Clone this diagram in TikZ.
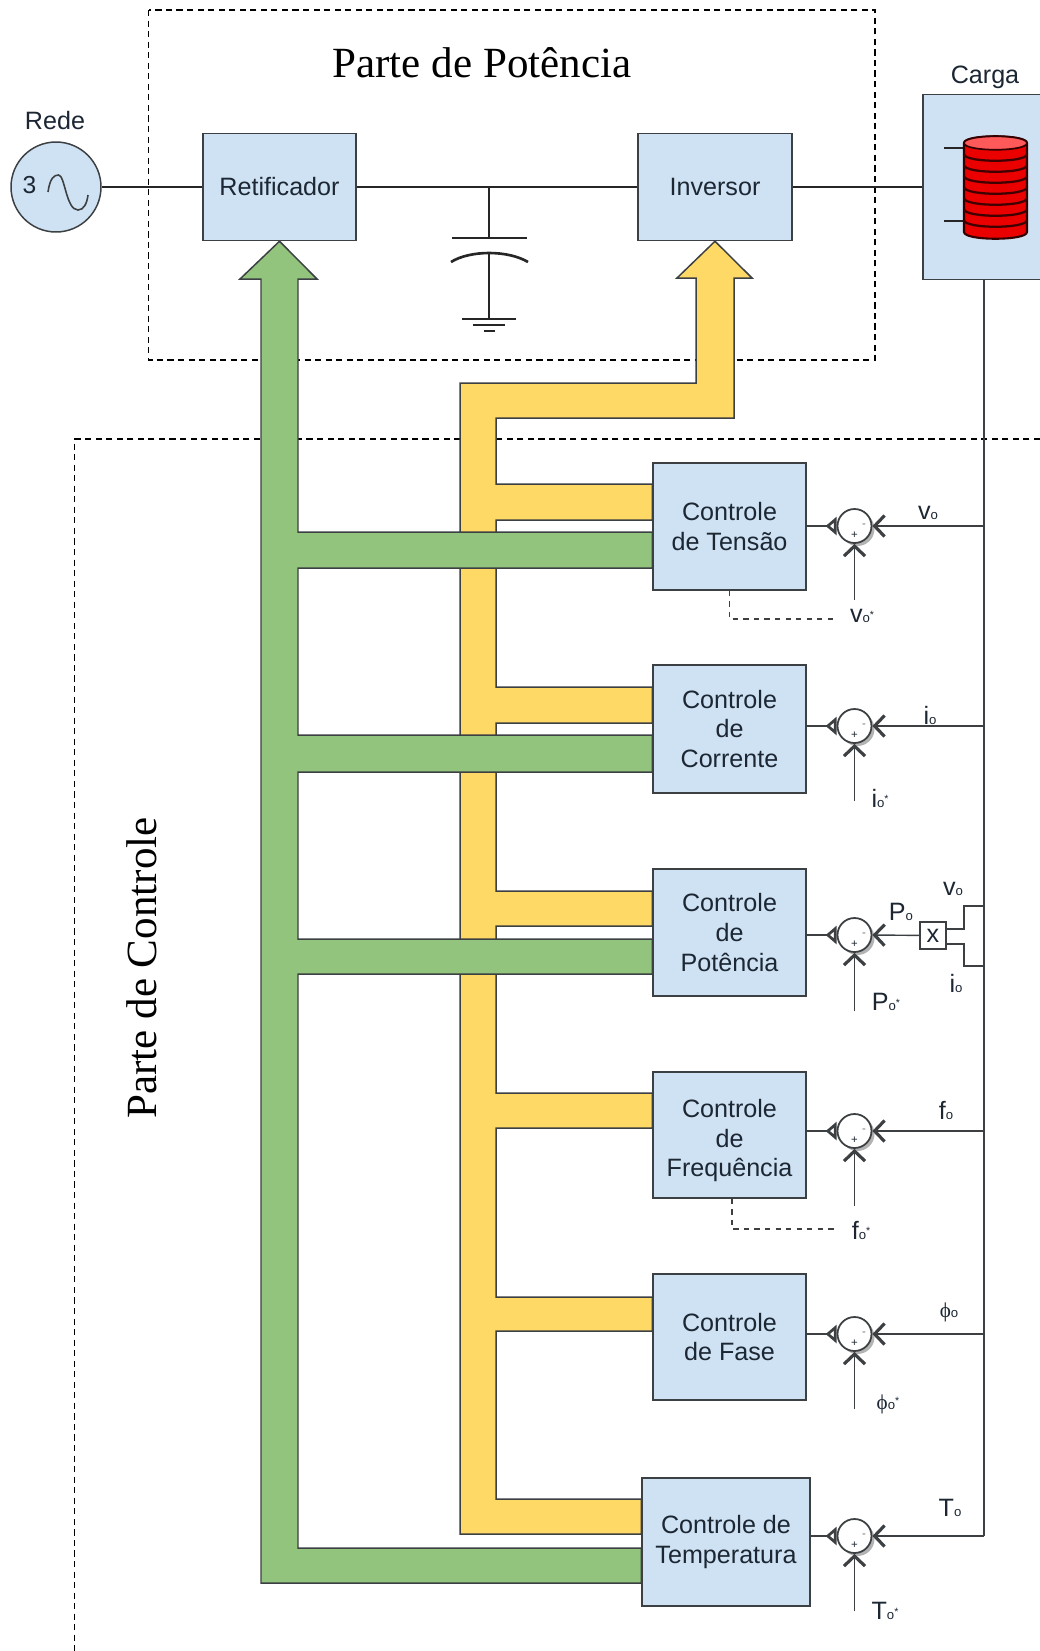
\documentclass[tikz,border=0pt]{standalone}
\usepackage{fontspec}
\setmainfont{Liberation Sans}
\newfontfamily\serifbig{Liberation Serif}
\usetikzlibrary{arrows.meta,backgrounds,shadows}
\definecolor{blkblue}{HTML}{CFE2F3}
\definecolor{busgreen}{HTML}{93C47D}
\definecolor{busyellow}{HTML}{FFD966}
\definecolor{edgegray}{HTML}{3C4043}
\definecolor{txtdark}{HTML}{1C2733}
\newcommand{\subo}[1]{#1{\fontsize{7.5}{7.5}\selectfont o}}
\newcommand{\subostar}[1]{\subo{#1}\raisebox{2.5pt}{\fontsize{6}{6}\selectfont *}}
\newcommand{\phisym}{{\serifbig\fontsize{12}{12}\selectfont ϕ}}

\begin{document}
\begin{tikzpicture}[
  x=0.02cm, y=-0.02cm,
  every node/.style={font=\fontsize{14.3}{16.8}\selectfont, text=txtdark},
  blk/.style={draw=edgegray, line width=0.85pt, fill=blkblue, align=center,
    inner sep=0pt, minimum width=3.06cm},
  hdr/.style={font=\serifbig\fontsize{24.5}{28}\selectfont, text=black},
  lbl/.style={inner sep=0pt},
  sgn/.style={font=\fontsize{6.5}{6.5}\selectfont, inner sep=0pt, anchor=center},
  sumj/.style={circle, draw=edgegray, line width=1pt, fill=white, inner sep=0pt,
    minimum size=0.68cm, drop shadow={shadow xshift=.06cm, shadow yshift=-.06cm,
    fill=black!50, opacity=.6},
    label={[sgn, yshift=-.18cm]center:+},
    label={[sgn, xshift=.19cm, text=black!55]center:-}},
  wirem/.style={draw=black!85, line width=1.5pt},
  wire/.style={draw=edgegray, line width=0.8pt},
  arr/.style={wire, -{Straight Barb[length=2mm, width=4.2mm, line width=1.8pt]}},
  sumout/.style={wire, -{Triangle[reversed, length=2.2mm, width=3.6mm, fill=white, line width=1.6pt]}},
  dashl/.style={wire, dashed},
  dashbox/.style={draw=black, line width=0.6pt, dash pattern=on 3.5pt off 2.5pt},
  busg/.style={draw=edgegray, line width=0.85pt, fill=busgreen},
  busy/.style={draw=edgegray, line width=0.85pt, fill=busyellow},
  band/.style={draw=black!75!red, line width=1.3pt}
]
\useasboundingbox (0,0) rectangle (1040,1651);

% power part
\node[circle, draw=edgegray, line width=0.85pt, fill=blkblue, minimum size=1.8cm, inner sep=0pt] (rede) at (56,187) {};
\node[lbl, font=\fontsize{14}{14}\selectfont] (tres) at (29.5,185) {3};
\node[lbl] (redelbl) at (55,121) {Rede};
\draw[wire, line width=0.9pt] (48,192) .. controls (50,178) and (54,175) .. (58.5,175)
  .. controls (65,175) and (66,210) .. (78,210) .. controls (84,210) and (87,203) .. (88,195);
\node[blk, minimum height=2.14cm] (ret) at (279.5,187) {Retificador};
\node[blk, minimum height=2.14cm, minimum width=3.08cm] (inv) at (715,187) {Inversor};
\node[blk, minimum height=3.7cm, minimum width=2.44cm] (carga) at (984,187) {};
\node[lbl] (cargalbl) at (985,77) {Carga};
\node[hdr] (potencia) at (482,63) {Parte de Potência};
\node[hdr, rotate=90] (controle) at (142,968) {Parte de Controle};

\draw[wirem] (rede) -- (ret);
\draw[wirem] (ret) -- (inv);
\draw[wirem] (inv) -- (carga);

% capacitor and ground
\coordinate (capj) at (489,187);
\coordinate (capt) at (489,238);
\coordinate (capb) at (489,253);
\coordinate (gnd) at (489,319);
\draw[wirem] (capj) -- (capt);
\draw[wirem] (capb) -- (gnd);
\draw[wirem] (452,238) -- (527,238);
\draw[wirem] (451,262) .. controls (470,250) and (508,250) .. (528,262);
\draw[wirem] (462,319) -- (516,319);
\draw[wirem] (473,325) -- (505,325);
\draw[wirem] (484,331) -- (495,331);

% load coil
\draw[wirem] (944,148) -- (964,148);
\draw[wirem] (944,221) -- (964,221);
\draw[draw=black!80!red, line width=1.2pt, fill=red!92!black] (964,143) -- (964,232)
  .. controls (964,241) and (1027,241) .. (1027,232) -- (1027,143)
  .. controls (1027,134) and (964,134) .. (964,143) -- cycle;
\draw[draw=black!80!red, line width=1pt, fill=red!65!white] (964,143)
  .. controls (964,134) and (1027,134) .. (1027,143)
  .. controls (1027,152) and (964,152) .. (964,143) -- cycle;
\draw[band] (964,154) .. controls (964,163) and (1027,163) .. (1027,154);
\draw[band] (964,165) .. controls (964,174) and (1027,174) .. (1027,165);
\draw[band] (964,176) .. controls (964,185) and (1027,185) .. (1027,176);
\draw[band] (964,187) .. controls (964,196) and (1027,196) .. (1027,187);
\draw[band] (964,198) .. controls (964,207) and (1027,207) .. (1027,198);
\draw[band] (964,209) .. controls (964,218) and (1027,218) .. (1027,209);
\draw[band] (964,220) .. controls (964,229) and (1027,229) .. (1027,220);

% controllers
\node[blk, minimum height=2.54cm] (cv) at (729.5,526.5) {Controle\\de Tensão};
\node[blk, minimum height=2.56cm] (ci) at (729.5,729) {Controle\\de\\Corrente};
\node[blk, minimum height=2.54cm] (cp) at (729.5,932.5) {Controle\\de\\Potência};
\node[blk, minimum height=2.52cm] (cf) at (729.5,1135) {\rule{0pt}{17pt}Controle\\de\\Frequência};
\node[blk, minimum height=2.52cm] (cph) at (729.5,1337) {Controle\\de Fase};
\node[blk, minimum height=2.56cm, minimum width=3.36cm] (ct) at (726,1542) {Controle de\\Temperatura};

% summing junctions
\node[sumj] (sv) at (854.5,526) {};
\node[sumj] (si) at (854.5,726) {};
\node[sumj] (sp) at (854.5,935) {};
\node[sumj] (sf) at (854.5,1131) {};
\node[sumj] (sph) at (854.5,1334) {};
\node[sumj] (st) at (854.5,1536) {};
\node[draw=edgegray, line width=0.75pt, fill=white, inner sep=0pt, minimum width=0.52cm, minimum height=0.54cm] (mult) at (933,935.5) {x};

\coordinate (tapv) at (984,526);
\coordinate (tapi) at (984,726);
\coordinate (tapf) at (984,1131);
\coordinate (tapph) at (984,1334);
\coordinate (refv) at (854.5,600);
\coordinate (refi) at (854.5,801);
\coordinate (refp) at (854.5,1011);
\coordinate (reff) at (854.5,1206);
\coordinate (refph) at (854.5,1409);
\coordinate (reft) at (854.5,1611);
\coordinate (tappv) at (984,906);
\coordinate (kneev) at (964,929);
\coordinate (tappi) at (984,966);
\coordinate (kneei) at (964,944);
\coordinate (dashv) at (838,619);
\coordinate (dashf) at (838,1229);

\draw[wire] (carga.south) -- (carga.south |- st.east);
\draw[arr] (tapv) -- (sv.east);
\draw[arr] (tapi) -- (si.east);
\draw[arr] (mult) -- (sp.east);
\draw[arr] (tapf) -- (sf.east);
\draw[arr] (tapph) -- (sph.east);
\draw[arr] (carga.south |- st.east) -- (st.east);
\draw[arr] (refv) -- (sv.south);
\draw[arr] (refi) -- (si.south);
\draw[arr] (refp) -- (sp.south);
\draw[arr] (reff) -- (sf.south);
\draw[arr] (refph) -- (sph.south);
\draw[arr] (reft) -- (st.south);
\draw[sumout] (cv.east |- sv.west) -- (sv.west);
\draw[sumout] (ci.east |- si.west) -- (si.west);
\draw[sumout] (cp.east |- sp.west) -- (sp.west);
\draw[sumout] (cf.east |- sf.west) -- (sf.west);
\draw[sumout] (cph.east |- sph.west) -- (sph.west);
\draw[sumout] (ct.east |- st.west) -- (st.west);
\draw[wire] (tappv) -| (kneev) -- (kneev -| mult.east);
\draw[wire] (tappi) -| (kneei) -- (kneei -| mult.east);
\draw[dashl] (cv.south) |- (dashv);
\draw[dashl] ([xshift=0.5mm]cf.south) |- (dashf);

% signal labels
\node[lbl] (lv) at (928,513) {\subo{v}};
\node[lbl] (lvr) at (862,616) {\subostar{v}};
\node[lbl] (li) at (930,715) {\subo{i}};
\node[lbl] (lir) at (880,798) {\subostar{i}};
\node[lbl] (lpo) at (901,912) {\subo{P}};
\node[lbl] (lpv) at (953,889) {\subo{v}};
\node[lbl] (lpi) at (956,983) {\subo{i}};
\node[lbl] (lpr) at (886,1002) {\subostar{P}};
\node[lbl] (lf) at (946,1110) {\subo{f}};
\node[lbl] (lfr) at (861,1230) {\subostar{f}};
\node[lbl] (lph) at (949,1312) {\subo{\phisym}};
\node[lbl] (lphr) at (888,1404) {\subostar{\phisym}};
\node[lbl] (lt) at (950,1508) {\subo{T}};
\node[lbl] (ltr) at (885,1611) {\subostar{T}};

% dashed frames and wide buses go under everything
\begin{scope}[on background layer]
\draw[dashbox] (148.5,10) rectangle (875,360);
\draw[dashbox] (1040,439) -| (74.7,1651);
\draw[busy] (inv.south) -- (752,278) -- (734,278) -- (734,418) -- (496,418)
  -- (496,484) -- (cv.west |- 0,484) -- (cv.west |- 0,520) -- (496,520)
  -- (496,687) -- (ci.west |- 0,687) -- (ci.west |- 0,723) -- (496,723)
  -- (496,891) -- (cp.west |- 0,891) -- (cp.west |- 0,926) -- (496,926)
  -- (496,1093) -- (cf.west |- 0,1093) -- (cf.west |- 0,1128) -- (496,1128)
  -- (496,1297) -- (cph.west |- 0,1297) -- (cph.west |- 0,1331) -- (496,1331)
  -- (496,1499) -- (ct.west |- 0,1499) -- (ct.west |- 0,1534) -- (460,1534)
  -- (460,383) -- (696,383) -- (696,278) -- (677,278) -- cycle;
\draw[busg] (ret.south) -- (317,279) -- (298,279)
  -- (298,532) -- (cv.west |- 0,532) -- (cv.west |- 0,568) -- (298,568)
  -- (298,735) -- (ci.west |- 0,735) -- (ci.west |- 0,772) -- (298,772)
  -- (298,939) -- (cp.west |- 0,939) -- (cp.west |- 0,974) -- (298,974)
  -- (298,1548) -- (ct.west |- 0,1548) -- (ct.west |- 0,1583) -- (261,1583)
  -- (261,279) -- (240,279) -- cycle;
\end{scope}
\end{tikzpicture}
\end{document}
